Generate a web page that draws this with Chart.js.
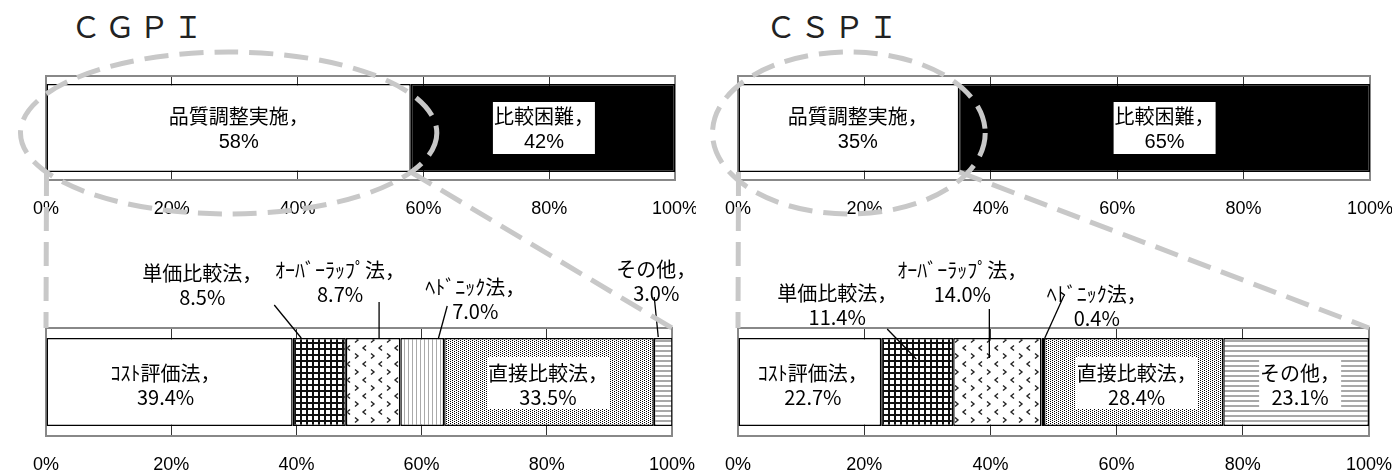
<!DOCTYPE html>
<html>
<head>
<meta charset="utf-8">
<script src="https://cdn.jsdelivr.net/npm/chart.js@4.4.1/dist/chart.umd.min.js"></script>
<style>
  body { margin: 0; width: 1392px; height: 473px; overflow: hidden; position: relative; background: #fff; }
  .title { position: absolute; top: 10px; font-family: "Noto Sans CJK JP", sans-serif; font-size: 30px; line-height: 1; letter-spacing: 4px; color: #222; }
  canvas { position: absolute; }
</style>
</head>
<body>
<div class="title" style="left:71px;">ＣＧＰＩ</div>
<div class="title" style="left:766px;">ＣＳＰＩ</div>
<canvas id="cgpiTop" width="696" height="152" style="left:0;top:66px;"></canvas>
<canvas id="cgpiMethod" width="696" height="234" style="left:0;top:240px;"></canvas>
<canvas id="cspiTop" width="696" height="152" style="left:696px;top:66px;"></canvas>
<canvas id="cspiMethod" width="696" height="234" style="left:696px;top:240px;"></canvas>
<canvas id="overlay" width="1392" height="473" style="left:0;top:0;pointer-events:none;"></canvas>
<script>
// データ
const topCategories = ['品質調整実施', '比較困難'];
const cgpiTopValues = [58, 42];
const cspiTopValues = [35, 65];

const methodCategories = ['ｺｽﾄ評価法', '単価比較法', 'ｵｰﾊﾞｰﾗｯﾌﾟ法', 'ﾍﾄﾞﾆｯｸ法', '直接比較法', 'その他'];
const cgpiMethodValues = [39.4, 8.5, 8.7, 7.0, 33.5, 3.0];
const cspiMethodValues = [22.7, 11.4, 14.0, 0.4, 28.4, 23.1];

const tickValues = [0, 20, 40, 60, 80, 100];

// ラベル位置（区間中心からのずれ, px）
const cgpiTopPlace = [{ dx: 10, dy: 2 }, { dx: 1, dy: 2, box: true }];
const cspiTopPlace = [{ dx: 9, dy: 2 }, { dx: 0, dy: 2, box: true }];
const cgpiMethodPlace = [
    { dx: -4, dy: 3 },
    { dx: -117, dy: -97, leader: [-45, -77, -18, -44] },
    { dx: -33, dy: -100, leader: [6, -80, 6, -43] },
    { dx: 53, dy: -83, leader: [25, -76, 16, -43] },
    { dx: -1, dy: 3, box: true },
    { dx: -7, dy: -101, leader: [-9, -85, -5, -45] }
];
const cspiMethodPlace = [
    { dx: 3, dy: 3 },
    { dx: -80, dy: -77, leader: [-30, -53, -1, -23] },
    { dx: -35, dy: -100, leader: [-8, -73, -8, -24] },
    { dx: 54, dy: -76, leader: [21, -86, 2, -44] },
    { dx: 3, dy: 3, box: true },
    { dx: 4, dy: 3, box: true }
];

const NARROW = '"Liberation Sans Narrow", "Liberation Sans", sans-serif';
const JP = '"Noto Sans CJK JP", sans-serif';

// 塗りつぶしパターン
function makePattern(w, h, draw) {
    const c = document.createElement('canvas');
    c.width = w;
    c.height = h;
    const g = c.getContext('2d');
    g.fillStyle = '#fff';
    g.fillRect(0, 0, w, h);
    draw(g);
    return g.createPattern(c, 'repeat');
}

const gridFill = makePattern(6, 6, g => {
    g.fillStyle = '#111';
    g.fillRect(0, 0, 6, 2);
    g.fillRect(0, 0, 2, 6);
});
const chevronFill = makePattern(16, 16, g => {
    g.strokeStyle = '#222';
    g.lineWidth = 1.4;
    g.beginPath();
    g.moveTo(3, 1.5); g.lineTo(6, 4); g.lineTo(3, 6.5);
    g.moveTo(14, 9.5); g.lineTo(11, 12); g.lineTo(14, 14.5);
    g.stroke();
});
const vStripeFill = makePattern(4, 4, g => {
    g.fillStyle = '#aaa';
    g.fillRect(0, 0, 1, 4);
});
const dotFill = makePattern(4, 2, g => {
    g.fillStyle = '#000';
    g.fillRect(0, 0, 1, 1);
    g.fillRect(2, 1, 1, 1);
});
const hStripeFill = makePattern(4, 5, g => {
    g.fillStyle = '#a8a8a8';
    g.fillRect(0, 0, 4, 2);
});

const topFills = ['#ffffff', '#000000'];
const methodFills = ['#ffffff', gridFill, chevronFill, vStripeFill, dotFill, hStripeFill];

// 枠線
const framePlugin = {
    id: 'frame',
    beforeDatasetsDraw(chart) {
        const a = chart.chartArea;
        const ctx = chart.ctx;
        ctx.save();
        ctx.strokeStyle = '#888';
        ctx.lineWidth = 2;
        ctx.strokeRect(a.left, a.top, a.right - a.left, a.bottom - a.top);
        ctx.restore();
    }
};

// データラベル
const labelPlugin = {
    id: 'segLabels',
    afterDatasetsDraw(chart, args, opts) {
        const ctx = chart.ctx;
        chart.data.datasets.forEach((ds, i) => {
            const bar = chart.getDatasetMeta(i).data[0].getProps(['x', 'base', 'y'], true);
            const cx = (bar.x + bar.base) / 2;
            const cy = bar.y;
            const p = opts.place[i];
            const tx = cx + p.dx;
            const ty = cy + p.dy;
            const lines = [ds.label + '，', ds.data[0].toFixed(opts.decimals) + '%'];
            ctx.save();
            ctx.font = opts.font;
            if (p.leader) {
                ctx.strokeStyle = '#000';
                ctx.lineWidth = 1.3;
                ctx.beginPath();
                ctx.moveTo(cx + p.leader[0], cy + p.leader[1]);
                ctx.lineTo(cx + p.leader[2], cy + p.leader[3]);
                ctx.stroke();
            }
            if (p.box) {
                const w = Math.max(...lines.map(s => ctx.measureText(s).width)) + 2;
                ctx.fillStyle = '#fff';
                ctx.fillRect(tx - w / 2, ty - 28, w, 52);
            }
            ctx.fillStyle = '#000';
            ctx.textAlign = 'center';
            ctx.textBaseline = 'middle';
            ctx.fillText(lines[0], tx, ty - 12);
            ctx.fillText(lines[1], tx, ty + 12);
            ctx.restore();
        });
    }
};

function buildChart(id, categories, values, fills, place, decimals, barPct, padding, font) {
    return new Chart(document.getElementById(id), {
        type: 'bar',
        data: {
            labels: [''],
            datasets: categories.map((name, i) => ({
                label: name,
                data: [values[i]],
                backgroundColor: fills[i],
                borderColor: '#000',
                borderWidth: 1.5,
                borderSkipped: false,
                barPercentage: barPct,
                categoryPercentage: 1
            }))
        },
        options: {
            indexAxis: 'y',
            responsive: false,
            animation: false,
            devicePixelRatio: 1,
            layout: { padding: padding },
            scales: {
                x: {
                    stacked: true,
                    min: 0,
                    max: 100,
                    afterBuildTicks: scale => { scale.ticks = tickValues.map(v => ({ value: v })); },
                    afterFit: scale => {
                        scale.height = 38;
                        scale.paddingLeft = 0;
                        scale.paddingRight = 0;
                    },
                    ticks: {
                        padding: 18,
                        maxRotation: 0,
                        color: '#000',
                        font: { family: NARROW, size: 18 },
                        callback: v => v + '%'
                    },
                    grid: { color: '#333', lineWidth: 1, drawTicks: false },
                    border: { display: false }
                },
                y: { stacked: true, display: false }
            },
            plugins: {
                legend: { display: false },
                tooltip: { enabled: false },
                segLabels: { place: place, decimals: decimals, font: font }
            }
        },
        plugins: [framePlugin, labelPlugin]
    });
}

const topFont = '20px ' + NARROW.replace('sans-serif', JP);
const methodFont = '20px ' + JP;

const cgpiTop = buildChart('cgpiTop', topCategories, cgpiTopValues, topFills, cgpiTopPlace, 0, 0.846,
    { left: 46, right: 21, top: 10, bottom: 0 }, topFont);
const cgpiMethod = buildChart('cgpiMethod', methodCategories, cgpiMethodValues, methodFills, cgpiMethodPlace, 1, 0.815,
    { left: 46, right: 24, top: 88, bottom: 0 }, methodFont);
const cspiTop = buildChart('cspiTop', topCategories, cspiTopValues, topFills, cspiTopPlace, 0, 0.846,
    { left: 42, right: 22, top: 10, bottom: 0 }, topFont);
const cspiMethod = buildChart('cspiMethod', methodCategories, cspiMethodValues, methodFills, cspiMethodPlace, 1, 0.815,
    { left: 42, right: 23, top: 88, bottom: 0 }, methodFont);

// 破線の楕円と引き出し線
function drawZoomGuide(topChart, bottomChart) {
    const o = document.getElementById('overlay').getContext('2d');
    const tl = topChart.canvas.offsetLeft, tt = topChart.canvas.offsetTop;
    const bl = bottomChart.canvas.offsetLeft, bt = bottomChart.canvas.offsetTop;
    const seg = topChart.getDatasetMeta(0).data[0].getProps(['x', 'base', 'y', 'height'], true);
    const x0 = tl + seg.base, x1 = tl + seg.x;
    const yc = tt + seg.y, yb = yc + seg.height / 2;
    const area = bottomChart.chartArea;
    o.save();
    o.strokeStyle = '#c8c8c8';
    o.lineWidth = 5;
    o.setLineDash([24, 11]);
    o.beginPath();
    o.ellipse((x0 + x1) / 2, yc + 5, (x1 - x0) / 2 + 26, 81, 0, 0, Math.PI * 2);
    o.stroke();
    o.beginPath();
    o.moveTo(x0, yb);
    o.lineTo(bl + area.left, bt + area.top);
    o.moveTo(x1, yb);
    o.lineTo(bl + area.right, bt + area.top);
    o.stroke();
    o.restore();
}

drawZoomGuide(cgpiTop, cgpiMethod);
drawZoomGuide(cspiTop, cspiMethod);
</script>
</body>
</html>
